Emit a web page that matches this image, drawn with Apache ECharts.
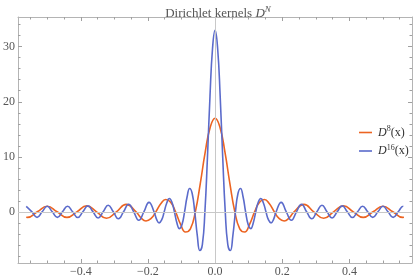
<!DOCTYPE html>
<html>
<head>
<meta charset="utf-8">
<script src="https://cdn.jsdelivr.net/npm/echarts@6/dist/echarts.min.js"></script>
<style>
html,body{margin:0;padding:0;background:#fff;}
#chart{width:415px;height:279px;}
</style>
</head>
<body>
<div id="chart"></div>
<script>
// Dirichlet kernel D^16 : sample positions and values
var d16X = [-0.5625,-0.560606,-0.545455,-0.530303,-0.515152,-0.5,-0.484848,-0.469697,-0.454545,-0.439394,-0.424242,-0.409091,-0.393939,-0.378788,-0.363636,-0.348485,-0.333333,-0.318182,-0.30303,-0.287879,-0.272727,-0.257576,-0.242424,-0.227273,-0.212121,-0.19697,-0.181818,-0.174242,-0.166667,-0.159091,-0.151515,-0.143939,-0.136364,-0.128788,-0.121212,-0.113636,-0.106061,-0.098485,-0.090909,-0.083333,-0.075758,-0.068182,-0.060606,-0.05303,-0.045455,-0.037879,-0.030303,-0.022727,-0.015152,-0.007576,0,
0.007576,0.015152,0.022727,0.030303,0.037879,0.045455,0.05303,0.060606,0.068182,0.075758,0.083333,0.090909,0.098485,0.106061,0.113636,0.121212,0.128788,0.136364,0.143939,0.151515,0.159091,0.166667,0.174242,0.181818,0.19697,0.212121,0.227273,0.242424,0.257576,0.272727,0.287879,0.30303,0.318182,0.333333,0.348485,0.363636,0.378788,0.393939,0.409091,0.424242,0.439394,0.454545,0.469697,0.484848,0.5,0.515152,0.530303,0.545455,0.560606,0.5625];
var d16Y = [1.0,1.018,0,-1.005,0,1.0,0,-1.005,0,1.018,0,-1.042,0,1.077,0,-1.125,0,1.189,0,-1.272,0,1.382,0,-1.527,0,1.724,0,-1.359,-2.0,-1.475,0,1.618,2.407,1.796,0,-2.023,-3.057,-2.322,0,2.732,4.242,3.327,0,-4.264,-7.027,-5.956,0,9.912,21.016,29.713,33,
29.713,21.016,9.912,0,-5.956,-7.027,-4.264,0,3.327,4.242,2.732,0,-2.322,-3.057,-2.023,0,1.796,2.407,1.618,0,-1.475,-2.0,-1.359,0,1.724,0,-1.527,0,1.382,0,-1.272,0,1.189,0,-1.125,0,1.077,0,-1.042,0,1.018,0,-1.005,0,1.0,0,-1.005,0,1.018,1.0];

// Dirichlet kernel D^8
var d8X = [-0.5625,-0.558824,-0.529412,-0.5,-0.470588,-0.441176,-0.411765,-0.382353,-0.352941,-0.323529,-0.294118,-0.264706,-0.235294,-0.220588,-0.205882,-0.191176,-0.176471,-0.161765,-0.147059,-0.132353,-0.117647,-0.102941,-0.088235,-0.073529,-0.058824,-0.044118,-0.029412,-0.014706,0,
0.014706,0.029412,0.044118,0.058824,0.073529,0.088235,0.102941,0.117647,0.132353,0.147059,0.161765,0.176471,0.191176,0.205882,0.220588,0.235294,0.264706,0.294118,0.323529,0.352941,0.382353,0.411765,0.441176,0.470588,0.5,0.529412,0.558824,0.5625];
var d8Y = [-1.0,-1.017,0,1.0,0,-1.017,0,1.072,0,-1.176,0,1.353,0,-1.107,-1.659,-1.251,0,1.453,2.244,1.751,0,-2.225,-3.654,-3.088,0,5.118,10.838,15.311,17,
15.311,10.838,5.118,0,-3.088,-3.654,-2.225,0,1.751,2.244,1.453,0,-1.251,-1.659,-1.107,0,1.353,0,-1.176,0,1.072,0,-1.017,0,1.0,0,-1.017,-1.0];

var xMajorTicks = [-0.4,-0.2,0,0.2,0.4];
var xMinorTicks = [-0.55,-0.5,-0.45,-0.35,-0.3,-0.25,-0.15,-0.1,-0.05,0.05,0.1,0.15,0.25,0.3,0.35,0.45,0.5,0.55];
var yMajorTicks = [0,10,20,30];
var yMinorTicks = [-8,-6,-4,-2,2,4,6,8,12,14,16,18,22,24,26,28,32,34];

var seriesNames = ['D8','D16'];
var seriesSup = {'D8':'8','D16':'16'};

var X_MIN = -0.587, X_MAX = 0.5865, Y_MIN = -9.3, Y_MAX = 35.4;
var FRAME = '#b4b4b4', TICK = '#a0a0a0', TXT = '#555555';
var SERIF = '"Liberation Serif","DejaVu Serif",serif';
var C8 = '#ec6422', C16 = '#5b6bcb';

function pairs(xs, ys){ var o=[]; for(var i=0;i<xs.length;i++) o.push([xs[i], ys[i]]); return o; }
function fmtX(v){ return (v<0?'\u2212':'') + Math.abs(v).toFixed(1); }

function xAxisDef(pos, ticks, len, showLine, showLabel){
  return {
    type:'value', position:pos, min:X_MIN, max:X_MAX,
    axisLine:{show:showLine, onZero:false, lineStyle:{color:FRAME, width:1}},
    axisTick:{show:true, inside:true, length:len, customValues:ticks, lineStyle:{color:TICK, width:1}},
    axisLabel:{show:showLabel, customValues:ticks, formatter:fmtX, margin:3, color:TXT, fontFamily:SERIF, fontSize:12},
    splitLine:{show:false}
  };
}
function yAxisDef(pos, ticks, len, showLine, showLabel){
  return {
    type:'value', position:pos, min:Y_MIN, max:Y_MAX,
    axisLine:{show:showLine, onZero:false, lineStyle:{color:FRAME, width:1}},
    axisTick:{show:true, inside:true, length:len, customValues:ticks, lineStyle:{color:TICK, width:1}},
    axisLabel:{show:showLabel, customValues:ticks, margin:3, color:TXT, fontFamily:SERIF, fontSize:12},
    splitLine:{show:false}
  };
}

var chart = echarts.init(document.getElementById('chart'), null, {renderer:'canvas'});
chart.setOption({
  animation:false,
  backgroundColor:'#ffffff',
  title:{
    text:'{a|Dirichlet kernels }{i|D}{s|N}',
    left:213, top:0, textAlign:'center',
    textStyle:{
      fontWeight:'normal',
      rich:{
        a:{fontFamily:SERIF, fontSize:13, fontWeight:'normal', color:TXT},
        i:{fontFamily:SERIF, fontSize:13, fontWeight:'normal', fontStyle:'italic', color:TXT},
        s:{fontFamily:SERIF, fontSize:9, fontWeight:'normal', fontStyle:'italic', color:TXT, padding:[0,0,8,0]}
      }
    }
  },
  grid:{left:13, right:3, top:17, bottom:16, containLabel:false},
  xAxis:[
    xAxisDef('bottom', xMajorTicks, 4, true, true),
    xAxisDef('bottom', xMinorTicks, 2.5, false, false),
    xAxisDef('top', xMajorTicks, 4, true, false),
    xAxisDef('top', xMinorTicks, 2.5, false, false)
  ],
  yAxis:[
    yAxisDef('left', yMajorTicks, 4, true, true),
    yAxisDef('left', yMinorTicks, 2.5, false, false),
    yAxisDef('right', yMajorTicks, 4, true, false),
    yAxisDef('right', yMinorTicks, 2.5, false, false)
  ],
  legend:{
    orient:'vertical', left:354, top:120, itemWidth:13, itemHeight:1.6, itemGap:5,
    icon:'rect',
    data:seriesNames,
    formatter:function(name){ return '{i|D}{s|'+seriesSup[name]+'}{n|(x)}'; },
    textStyle:{
      padding:[0,0,0,1],
      rich:{
        i:{fontFamily:SERIF, fontSize:12, fontStyle:'italic', color:'#333'},
        s:{fontFamily:SERIF, fontSize:8, color:'#333', padding:[0,0,7,0]},
        n:{fontFamily:SERIF, fontSize:12, color:'#333'}
      }
    }
  },
  series:[
    {
      type:'line', name:'axes0', data:[], silent:true, z:1,
      markLine:{
        silent:true, symbol:['none','none'], animation:false,
        label:{show:false},
        lineStyle:{color:'#c8c8c8', width:1, type:'solid'},
        data:[{yAxis:0},{xAxis:0}]
      }
    },
    {
      type:'line', name:'D8', data:pairs(d8X,d8Y), smooth:0.5, showSymbol:false, symbol:'none', z:3,
      lineStyle:{color:C8, width:1.6}, itemStyle:{color:C8}
    },
    {
      type:'line', name:'D16', data:pairs(d16X,d16Y), smooth:0.5, showSymbol:false, symbol:'none', z:4,
      lineStyle:{color:C16, width:1.6}, itemStyle:{color:C16}
    }
  ]
});
</script>
</body>
</html>
